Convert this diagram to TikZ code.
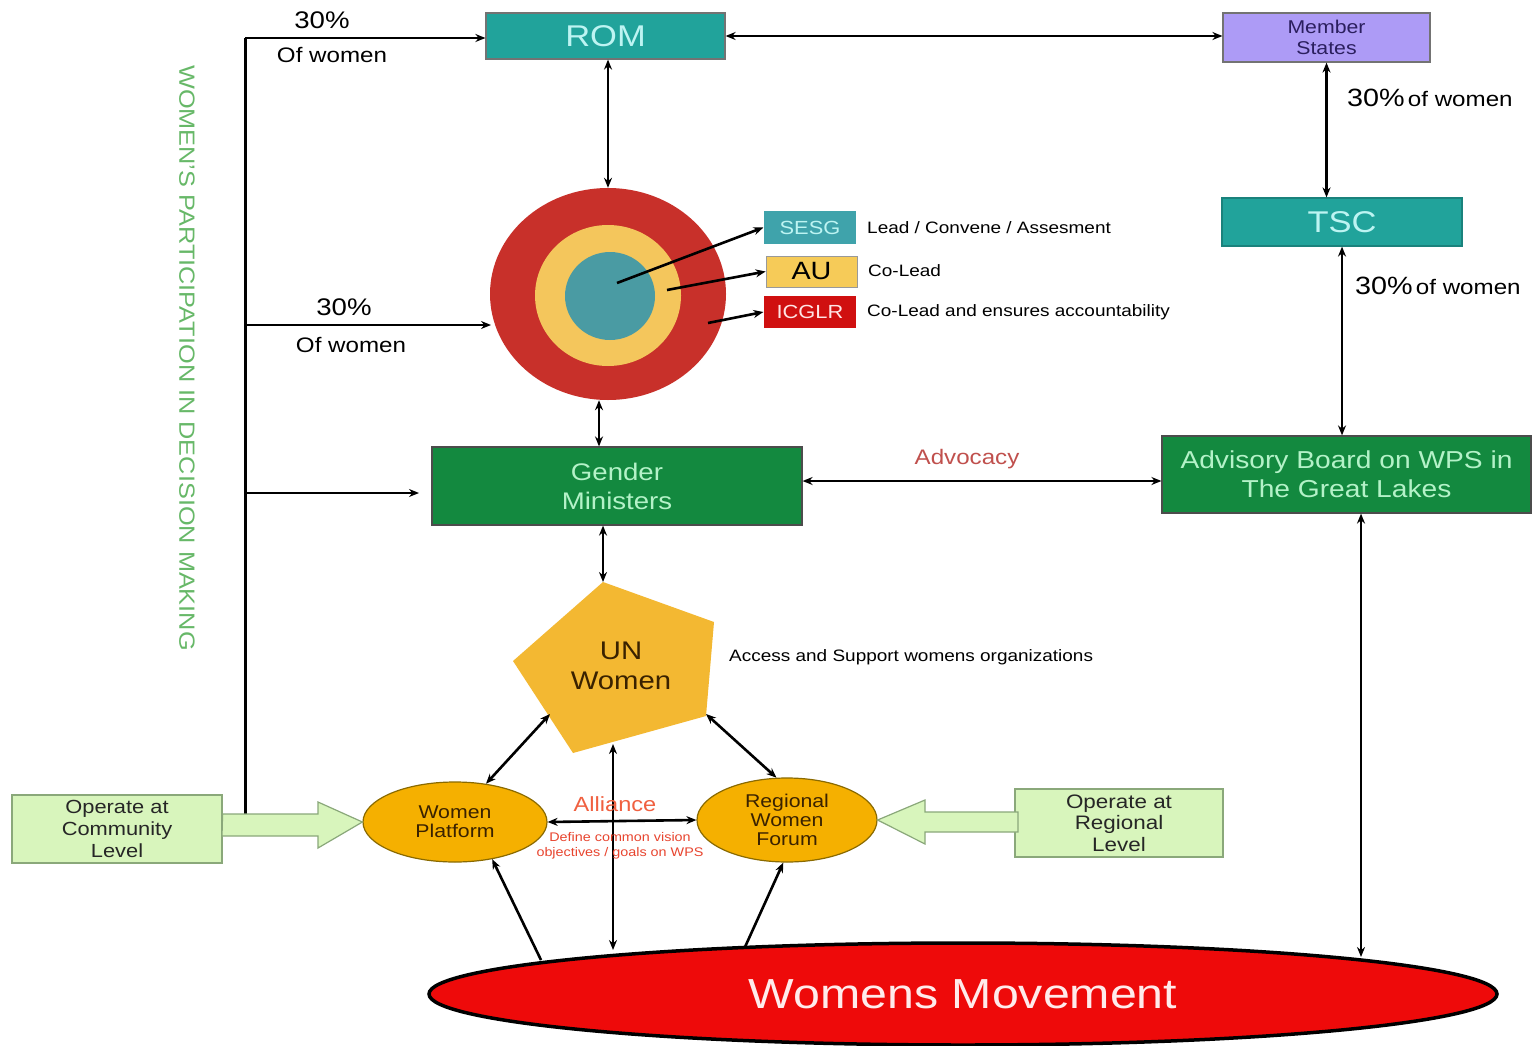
\documentclass[tikz,border=0pt]{standalone}
\usepackage{fontspec}
\setmainfont{Liberation Sans}[FakeStretch=1.15]
\usetikzlibrary{arrows.meta,shapes.geometric}
\definecolor{teal1}{HTML}{21A39B}
\definecolor{tealtext}{HTML}{BDF4F2}
\definecolor{purp}{HTML}{AD9BF6}
\definecolor{purptext}{HTML}{2B1F5E}
\definecolor{gr1}{HTML}{13893F}
\definecolor{grtext}{HTML}{B4F2C8}
\definecolor{tred}{HTML}{C8302A}
\definecolor{tyel}{HTML}{F4C65C}
\definecolor{tteal}{HTML}{4A9BA3}
\definecolor{sesgc}{HTML}{3FA3AB}
\definecolor{auc}{HTML}{F6CB58}
\definecolor{icc}{HTML}{D01010}
\definecolor{ungold}{HTML}{F3B832}
\definecolor{untext}{HTML}{3A2200}
\definecolor{amber}{HTML}{F5B000}
\definecolor{amberb}{HTML}{8A6A00}
\definecolor{lgreen}{HTML}{D8F5BC}
\definecolor{lgborder}{HTML}{8AA87A}
\definecolor{mred}{HTML}{EE0A0A}
\definecolor{vgreen}{HTML}{67B868}
\definecolor{advc}{HTML}{C0504D}
\definecolor{allc}{HTML}{F06040}
\definecolor{defc}{HTML}{E8452F}
\newcommand\fsz[2]{\fontsize{#1}{#2}\selectfont}
\begin{document}
\begin{tikzpicture}[x=1pt,y=-1pt,
  rbox/.style={rectangle, inner sep=0pt, align=center, line width=1.2pt},
  ell/.style={ellipse, inner sep=0pt, align=center, line width=1.2pt},
  arr/.style={-{Stealth[length=10pt,width=8pt]}, line width=2.6pt},
  dbl/.style={{Stealth[length=10pt,width=8pt]}-{Stealth[length=10pt,width=8pt]}, line width=2.6pt},
  lbl/.style={inner sep=0pt, align=center},
  blk/.style={fill=lgreen, draw=lgborder, line width=1.2pt, line join=miter}]
\fill[white] (0,0) rectangle (1533,1046);
\useasboundingbox (0,0) rectangle (1533,1046);

% boxes
\node[rbox, fill=teal1, draw=black!55, minimum width=239pt, minimum height=46pt, text=tealtext, font=\fsz{30}{36}] (rom) at (605.5,36) {ROM};
\node[rbox, fill=purp, draw=black!55, minimum width=207pt, minimum height=49pt, text=purptext, font=\fsz{18.5}{21}] (ms) at (1326.5,37.5) {Member\\States};
\node[rbox, fill=teal1, draw=teal1!80!black, minimum width=240pt, minimum height=48pt, text=tealtext, font=\fsz{30}{36}] (tsc) at (1342,222) {TSC};
\node[rbox, fill=gr1, draw=black!70, minimum width=370pt, minimum height=78pt, text=grtext, font=\fsz{24}{29}] (gm) at (617,486) {Gender\\Ministers};
\node[rbox, fill=gr1, draw=black!70, minimum width=369pt, minimum height=77pt, text=grtext, font=\fsz{24.5}{29}] (ab) at (1346.5,474.5) {Advisory Board on WPS in\\The Great Lakes};

% target
\node[ellipse, fill=tred, minimum width=236pt, minimum height=212pt, inner sep=0pt] (tgt) at (608,294) {};
\node[ellipse, fill=tyel, minimum width=146pt, minimum height=141pt, inner sep=0pt] (tgtm) at (608,295.5) {};
\node[ellipse, fill=tteal, minimum width=90pt, minimum height=88pt, inner sep=0pt] (tgti) at (610,296) {};
\coordinate (cI) at (617,283);
\coordinate (cM) at (667,290);
\coordinate (cO) at (708,323);

\node[rbox, fill=sesgc, minimum width=92pt, minimum height=33pt, text=tealtext, font=\fsz{19}{22}] (sesg) at (810,227.5) {SESG};
\node[rbox, fill=auc, draw=black!40, line width=0.8pt, minimum width=91pt, minimum height=31pt, text=black, font=\fsz{25}{28}] (au) at (811.5,271.5) {AU};
\node[rbox, fill=icc, minimum width=92pt, minimum height=32pt, text=white!90!red, font=\fsz{19}{22}] (icglr) at (810,312) {ICGLR};
\node[lbl, anchor=west, font=\fsz{16.5}{20}] (l1) at (867,228) {Lead / Convene / Assesment};
\node[lbl, anchor=west, font=\fsz{16.5}{20}] (l2) at (868,271) {Co-Lead};
\node[lbl, anchor=west, font=\fsz{16.5}{20}] (l3) at (867,312) {Co-Lead and ensures accountability};

\draw[arr] (cI) -- (sesg.west);
\draw[arr] (cM) -- (au.west);
\draw[arr] (cO) -- (icglr.west);

% UN women
\coordinate (unT) at (603,582);
\coordinate (unR) at (714,622);
\coordinate (unRB) at (706,716);
\coordinate (unB) at (573,753);
\coordinate (unL) at (513,661);
\fill[ungold] (unT) -- (unR) -- (unRB) -- (unB) -- (unL) -- cycle;
\node[lbl, text=untext, font=\fsz{25.5}{30}] (un) at (621,666) {UN\\Women};
\node[lbl, anchor=west, font=\fsz{16.5}{20}] (acc) at (729,657) {Access and Support womens organizations};
\coordinate (unP1) at (550,714);
\coordinate (unP2) at (706,714);
\coordinate (unP3) at (613,744);

% lower ellipses and boxes
\node[ell, fill=amber, draw=amberb, minimum width=184pt, minimum height=80pt, text=untext, font=\fsz{18.5}{19}] (wp) at (455,822) {Women\\Platform};
\node[ell, fill=amber, draw=amberb, minimum width=180pt, minimum height=84pt, text=untext, font=\fsz{18.5}{19}] (rwf) at (787,820) {Regional\\Women\\Forum};
\node[rbox, fill=lgreen, draw=lgborder, minimum width=210pt, minimum height=68pt, text=black!85, font=\fsz{19}{22}] (comm) at (117,829) {Operate at\\Community\\Level};
\node[rbox, fill=lgreen, draw=lgborder, minimum width=208pt, minimum height=68pt, text=black!85, font=\fsz{19.5}{21.5}] (reg) at (1119,823) {Operate at\\Regional\\Level};

% womens movement
\node[ellipse, fill=mred, draw=black, line width=3.5pt, minimum width=1068pt, minimum height=102pt, inner sep=0pt, text=white!92!red, font=\fsz{42}{48}] (wm) at (963,994) {Womens Movement};
\coordinate (wmA) at (613,950);
\coordinate (wmB) at (541,960);
\coordinate (wmC) at (745,947);
\coordinate (wmD) at (1361,957);

% left bus
\coordinate (busT) at (245,38);
\coordinate (busM) at (245,325);
\coordinate (busG) at (245,493);
\coordinate (busB) at (245,814);
\coordinate (tgtL) at (491,325);
\coordinate (gmL) at (419,493);
\draw[line width=3pt] (busB) -- (busT);
\draw[arr] (busT) -- (busT -| rom.west);
\draw[arr] (busM) -- (tgtL);
\draw[arr] (busG) -- (gmL);

% block arrows
\draw[blk] (comm.east |- busB) -- (318,814) -- (318,802) -- (wp.west) -- (318,848) -- (318,836) -- (222,836) -- cycle;
\draw[blk] (1018,812) -- (925,812) -- (925,800) -- (rwf.east) -- (925,844) -- (925,832) -- (1018,832) -- cycle;

% labels
\node[lbl, font=\fsz{24}{28}] (p1) at (322,20) {30\%};
\node[lbl, font=\fsz{21}{25}] (o1) at (332,55) {Of women};
\node[lbl, font=\fsz{24}{28}] (p2) at (344,307) {30\%};
\node[lbl, font=\fsz{21}{25}] (o2) at (351,345) {Of women};
\node[lbl, anchor=west] (p3) at (1347,98) {{\fsz{25}{30}30\%} {\fsz{21}{24}of women}};
\node[lbl, anchor=west] (p4) at (1355,286) {{\fsz{25}{30}30\%} {\fsz{21}{24}of women}};
\node[lbl, text=advc, font=\fsz{21}{25}] (adv) at (967,459) {Advocacy};
\node[lbl, rotate=-90, text=vgreen, font=\fsz{22}{26}] (vt) at (187,358) {WOMEN'S PARTICIPATION IN DECISION MAKING};

% connectors
\draw[dbl] (rom.east) -- (rom.east -| ms.west);
\draw[dbl] (rom.south -| tgt.north) -- (tgt.north);
\draw[dbl] (ms.south) -- (ms.south |- tsc.north);
\draw[dbl] (tsc.south) -- (tsc.south |- ab.north);
\draw[dbl] ([xshift=-9pt]tgt.south) -- ([xshift=-9pt]tgt.south |- gm.north);
\draw[dbl] ([yshift=5pt]gm.east) -- ([yshift=5pt]gm.east -| ab.west);
\draw[dbl] (gm.south -| unT) -- (unT);
\draw[dbl] (unP1) -- (wp.51);
\draw[dbl] (unP2) -- (rwf.104);
\draw[dbl] (unP3) -- (wmA);
\draw[dbl] (wp.east) -- (rwf.west);
\draw[arr] (wmB) -- (wp.-45);
\draw[arr] (wmC) -- (rwf.-95);
\draw[dbl] (ab.south -| wmD) -- (wmD);

\node[lbl, text=allc, font=\fsz{20.5}{24}] (all) at (615,804) {Alliance};
\node[lbl, text=defc, font=\fsz{12.5}{15}] (def) at (620,846) {Define common vision\\objectives / goals on WPS};
\end{tikzpicture}
\end{document}
